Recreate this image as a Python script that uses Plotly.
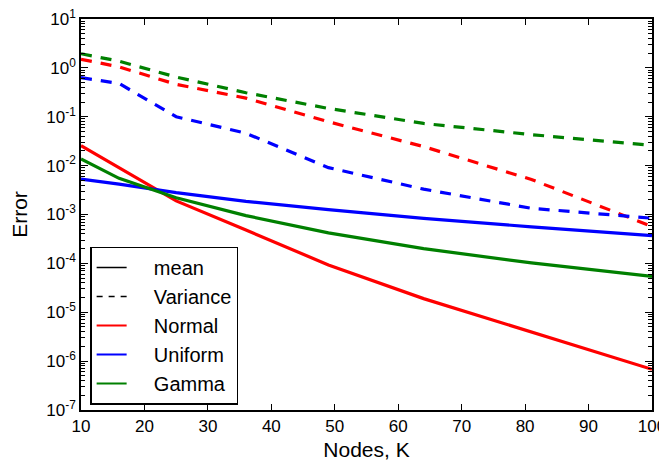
import plotly.graph_objects as go

nodes = [10, 16, 25, 36, 49, 64, 81, 100]

normal_mean = [0.0256, 0.0089, 0.0019, 4.8e-4, 9.3e-5, 1.9e-5, 3.9e-6, 6.8e-7]
uniform_mean = [0.0053, 0.0042, 0.0028, 0.00186, 0.00126, 8.3e-4, 5.6e-4, 3.7e-4]
gamma_mean = [0.0137, 0.0055, 0.0022, 9.5e-4, 4.2e-4, 2.0e-4, 1.02e-4, 5.4e-5]

normal_var = [1.5, 1.05, 0.46, 0.24, 0.079, 0.0245, 0.0052, 0.00057]
uniform_var = [0.63, 0.48, 0.10, 0.046, 0.0091, 0.0033, 0.00134, 0.00084]
gamma_var = [1.95, 1.37, 0.65, 0.31, 0.148, 0.073, 0.043, 0.026]

x_ticks = [10, 20, 30, 40, 50, 60, 70, 80, 90, 100]
y_exponents = [1, 0, -1, -2, -3, -4, -5, -6, -7]

RED, BLUE, GREEN = "#ff0000", "#0000ff", "#008000"
DASH = "11px,9px"
LW = 3.2

fig = go.Figure()
series = [
    (normal_var, RED, DASH), (uniform_var, BLUE, DASH), (gamma_var, GREEN, DASH),
    (normal_mean, RED, "solid"), (uniform_mean, BLUE, "solid"), (gamma_mean, GREEN, "solid"),
]
for ys, col, dash in series:
    fig.add_trace(go.Scatter(x=nodes, y=ys, mode="lines", showlegend=False,
                             line=dict(color=col, width=LW, dash=dash)))

legend_items = [("mean", "black", "solid"), ("Variance", "black", "6px,6px"),
                ("Normal", RED, "solid"), ("Uniform", BLUE, "solid"), ("Gamma", GREEN, "solid")]
for name, col, dash in legend_items:
    fig.add_trace(go.Scatter(x=[None], y=[None], mode="lines", name="    " + name,
                             line=dict(color=col, width=1.5 if col == "black" else 2, dash=dash)))

minor_vals = [m * 10.0 ** e for e in range(-7, 1) for m in range(2, 10)]

# page has an 8px body margin: figure is sized/offset to compensate
fig.update_layout(
    width=659, height=453,
    margin=dict(l=73, r=15, t=11, b=51),
    paper_bgcolor="white", plot_bgcolor="white",
    font=dict(family="Liberation Sans, Arial, sans-serif", size=17, color="black"),
    legend=dict(x=0.016, y=0.014, xanchor="left", yanchor="bottom",
                bordercolor="black", borderwidth=1.5, bgcolor="white",
                font=dict(size=20)),
    xaxis=dict(range=[10, 100], tickvals=x_ticks, ticktext=[str(v) for v in x_ticks],
               ticks="inside", ticklen=6, tickwidth=1, tickcolor="black",
               showline=True, linecolor="black", linewidth=1.5, mirror="allticks",
               showgrid=False, zeroline=False, automargin=False,
               ticklabeloverflow="allow",
               title=dict(text="Nodes, K", standoff=7, font=dict(size=21))),
    yaxis=dict(type="log", range=[-7, 1],
               tickvals=[10.0 ** e for e in y_exponents],
               ticktext=[f"10<sup>{e}</sup>" for e in y_exponents],
               ticks="inside", ticklen=7, tickwidth=1, tickcolor="black",
               minor=dict(tickmode="array", tickvals=minor_vals, ticks="inside",
                          ticklen=4, tickcolor="black", showgrid=False),
               showline=True, linecolor="black", linewidth=1.5, mirror="allticks",
               showgrid=False, zeroline=False, automargin=False,
               ticklabeloverflow="allow",
               title=dict(text="Error", standoff=22, font=dict(size=21))),
)

fig.write_html("out.html")
